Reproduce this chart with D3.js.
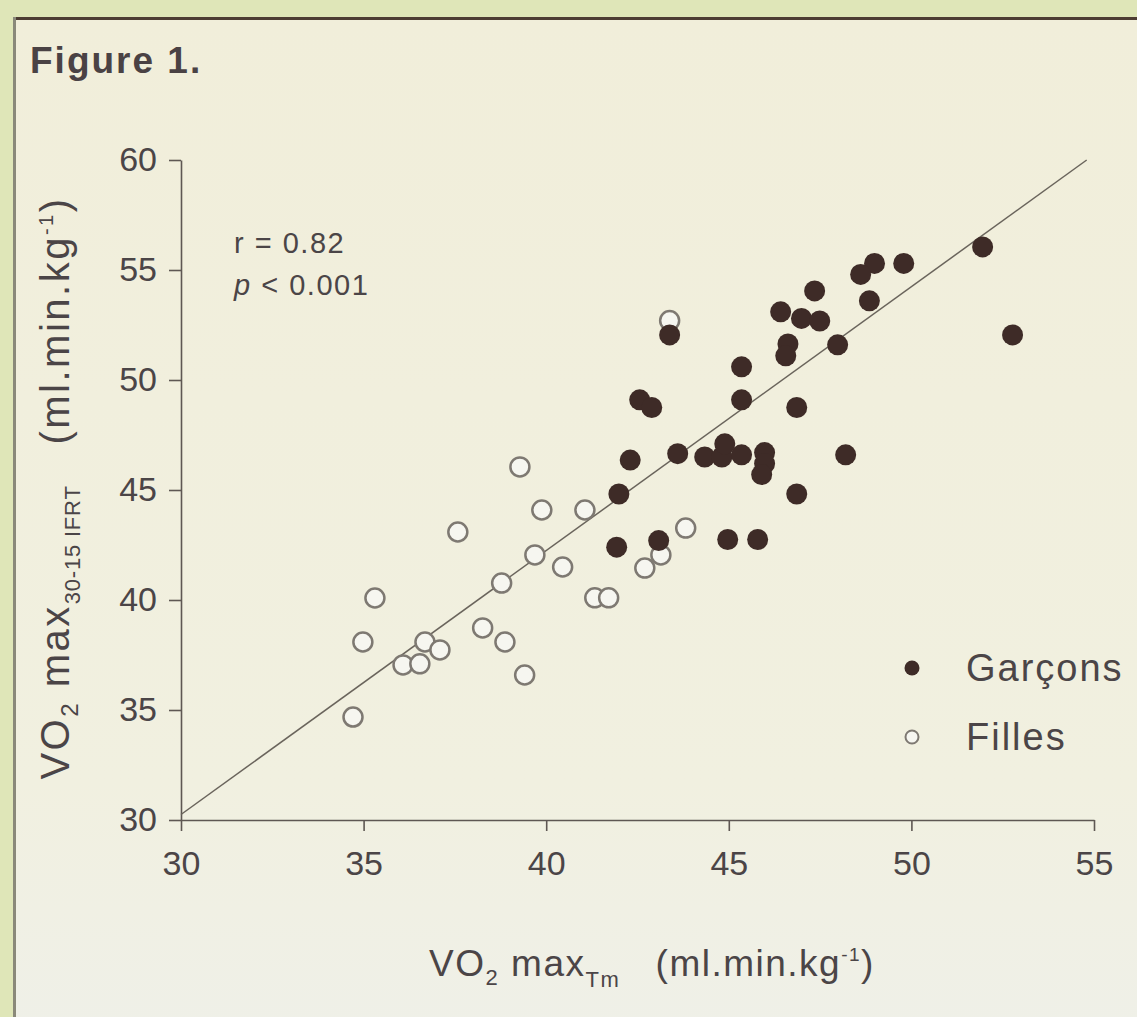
<!DOCTYPE html>
<html>
<head>
<meta charset="utf-8">
<script src="https://cdn.jsdelivr.net/npm/d3@7"></script>
<style>
  html, body { margin: 0; padding: 0; background: #dfe6b8; }
  svg { display: block; }
</style>
</head>
<body>
<svg id="grafica"></svg>
<script>
// datos
const garconsX = [51.95, 52.77, 48.99, 48.61, 49.79, 48.85, 47.35, 46.42, 46.99, 47.49, 47.98, 46.62, 46.56, 46.86,
  45.35, 45.35, 43.38, 42.56, 42.89, 43.6, 42.3, 41.99, 41.93, 43.08, 46.86, 48.2, 44.34, 44.81, 44.89, 45.35,
  45.98, 45.98, 45.9, 44.97, 45.79];
const garconsY = [56.05, 52.05, 55.3, 54.8, 55.3, 53.6, 54.05, 53.1, 52.8, 52.68, 51.6, 51.64, 51.1, 48.75,
  50.6, 49.1, 52.05, 49.1, 48.75, 46.65, 46.36, 44.82, 42.4, 42.7, 44.82, 46.6, 46.5, 46.5, 47.1, 46.6,
  46.7, 46.2, 45.7, 42.75, 42.75];

const fillesX = [39.28, 39.88, 41.06, 37.58, 39.69, 40.45, 38.78, 41.33, 41.71, 35.31, 34.98, 38.26, 38.87,
  36.68, 37.09, 36.08, 36.54, 39.41, 34.71, 43.38, 43.14, 42.7, 43.82];
const fillesY = [46.05, 44.09, 44.09, 43.09, 42.05, 41.5, 40.77, 40.1, 40.1, 40.09, 38.09, 38.73, 38.09,
  38.09, 37.73, 37.05, 37.1, 36.59, 34.68, 52.7, 42.05, 41.45, 43.27];

const xTicks = [30, 35, 40, 45, 50, 55];
const yTicks = [30, 35, 40, 45, 50, 55, 60];
const droiteX = [30, 54.8];
const droiteY = [30.25, 60];
const legende = ["Garçons", "Filles"];

const width = 1137;
const height = 1017;
const colorTexto = "#4b4547";
const fuente = "'Liberation Sans', Arial, sans-serif";

const svg = d3.select("#grafica")
  .attr("width", width)
  .attr("height", height);

// fondo y marco
const grad = svg.append("defs").append("linearGradient")
  .attr("id", "papel").attr("x1", 0).attr("x2", 0).attr("y1", 0).attr("y2", 1);
grad.append("stop").attr("offset", 0).attr("stop-color", "#f1eeda");
grad.append("stop").attr("offset", 0.75).attr("stop-color", "#f1f0e0");
grad.append("stop").attr("offset", 1).attr("stop-color", "#eff0e8");

svg.append("rect")
  .attr("width", width).attr("height", height)
  .attr("fill", "#dfe6b8");
svg.append("rect")
  .attr("x", 14).attr("y", 19)
  .attr("width", width).attr("height", height)
  .attr("fill", "url(#papel)");
svg.append("line")
  .attr("x1", 14).attr("x2", width).attr("y1", 18.5).attr("y2", 18.5)
  .attr("stroke", "#4d3d33").attr("stroke-width", 3);
svg.append("line")
  .attr("x1", 14.5).attr("x2", 14.5).attr("y1", 17).attr("y2", height)
  .attr("stroke", "#8a897a").attr("stroke-width", 3);

svg.append("text")
  .attr("x", 30).attr("y", 73)
  .attr("font-family", fuente).attr("font-weight", "bold")
  .attr("font-size", 37).attr("letter-spacing", 2).attr("fill", "#4a4244")
  .text("Figure 1.");

const x = d3.scaleLinear().domain([30, 55]).range([181, 1094]);
const y = d3.scaleLinear().domain([30, 60]).range([820, 160]);

const ejeY = svg.append("g")
  .attr("transform", `translate(${x(30)},0)`)
  .call(d3.axisLeft(y).tickValues(yTicks).tickSize(12).tickSizeOuter(0).tickPadding(12));

const ejeX = svg.append("g")
  .attr("transform", `translate(0,${y(30)})`)
  .call(d3.axisBottom(x).tickValues(xTicks).tickSize(11).tickSizeOuter(0).tickPadding(20));

[ejeX, ejeY].forEach(eje => {
  eje.select(".domain").attr("stroke", "#5e5753").attr("stroke-width", 1.6);
  eje.selectAll(".tick line").attr("stroke", "#5e5753").attr("stroke-width", 1.6);
  eje.selectAll(".tick text")
    .attr("fill", colorTexto)
    .attr("font-family", fuente)
    .attr("font-size", 34);
});

// recta de regresion
svg.append("line")
  .attr("x1", x(droiteX[0])).attr("y1", y(droiteY[0]))
  .attr("x2", x(droiteX[1])).attr("y2", y(droiteY[1]))
  .attr("stroke", "#6a645c").attr("stroke-width", 1.5);

const filles = fillesX.map((v, i) => ({ x: v, y: fillesY[i] }));
const garcons = garconsX.map((v, i) => ({ x: v, y: garconsY[i] }));

svg.append("g").selectAll("circle")
  .data(filles)
  .join("circle")
  .attr("cx", d => x(d.x))
  .attr("cy", d => y(d.y))
  .attr("r", 9.5)
  .attr("fill", "#f6f6f0")
  .attr("stroke", "#7e7972")
  .attr("stroke-width", 2.5);

svg.append("g").selectAll("circle")
  .data(garcons)
  .join("circle")
  .attr("cx", d => x(d.x))
  .attr("cy", d => y(d.y))
  .attr("r", 10.5)
  .attr("fill", "#3e2b27");

// r y p
svg.append("text")
  .attr("x", 234).attr("y", 253)
  .attr("font-family", fuente).attr("font-size", 29).attr("letter-spacing", 1.5).attr("fill", colorTexto)
  .text("r = 0.82");
const pTexto = svg.append("text")
  .attr("x", 234).attr("y", 295)
  .attr("font-family", fuente).attr("font-size", 29).attr("letter-spacing", 1.5).attr("fill", colorTexto);
pTexto.append("tspan").attr("font-style", "italic").text("p");
pTexto.append("tspan").text(" < 0.001");

// leyenda
const leyenda = svg.append("g");
legende.forEach((nombre, i) => {
  const cy = 668 + i * 69;
  leyenda.append("circle")
    .attr("cx", 912).attr("cy", cy).attr("r", i === 0 ? 7.5 : 6.5)
    .attr("fill", i === 0 ? "#3e2b27" : "#f6f6f0")
    .attr("stroke", i === 0 ? "none" : "#7e7972")
    .attr("stroke-width", 2);
  leyenda.append("text")
    .attr("x", 966).attr("y", cy + 13)
    .attr("font-family", fuente).attr("font-size", 38).attr("letter-spacing", 2).attr("fill", colorTexto)
    .text(nombre);
});

// titulos de ejes
const tituloX = svg.append("text")
  .attr("x", 652).attr("y", 976)
  .attr("text-anchor", "middle")
  .attr("font-family", fuente).attr("font-size", 37).attr("letter-spacing", 1.5).attr("fill", colorTexto);
tituloX.append("tspan").text("VO");
tituloX.append("tspan").attr("font-size", 22).attr("dy", 9).text("2");
tituloX.append("tspan").attr("dy", -9).text(" max");
tituloX.append("tspan").attr("font-size", 22).attr("dy", 11).text("Tm");
tituloX.append("tspan").attr("dy", -11).text("\u00a0\u00a0 (ml.min.kg");
tituloX.append("tspan").attr("font-size", 19).attr("dy", -15).text("-1");
tituloX.append("tspan").attr("dy", 15).text(")");

const tituloY = svg.append("text")
  .attr("transform", "translate(69,488) rotate(-90)")
  .attr("text-anchor", "middle")
  .attr("font-family", fuente).attr("font-size", 40).attr("letter-spacing", 2.5).attr("fill", colorTexto);
tituloY.append("tspan").text("VO");
tituloY.append("tspan").attr("font-size", 24).attr("dy", 9).text("2");
tituloY.append("tspan").attr("dy", -9).text(" max");
tituloY.append("tspan").attr("font-size", 22).attr("dy", 11).attr("letter-spacing", 0.8).text("30-15 IFRT");
tituloY.append("tspan").attr("dy", -11).text("\u00a0\u00a0 (ml.min.kg");
tituloY.append("tspan").attr("font-size", 20).attr("dy", -16).text("-1");
tituloY.append("tspan").attr("dy", 16).text(")");
</script>
</body>
</html>
